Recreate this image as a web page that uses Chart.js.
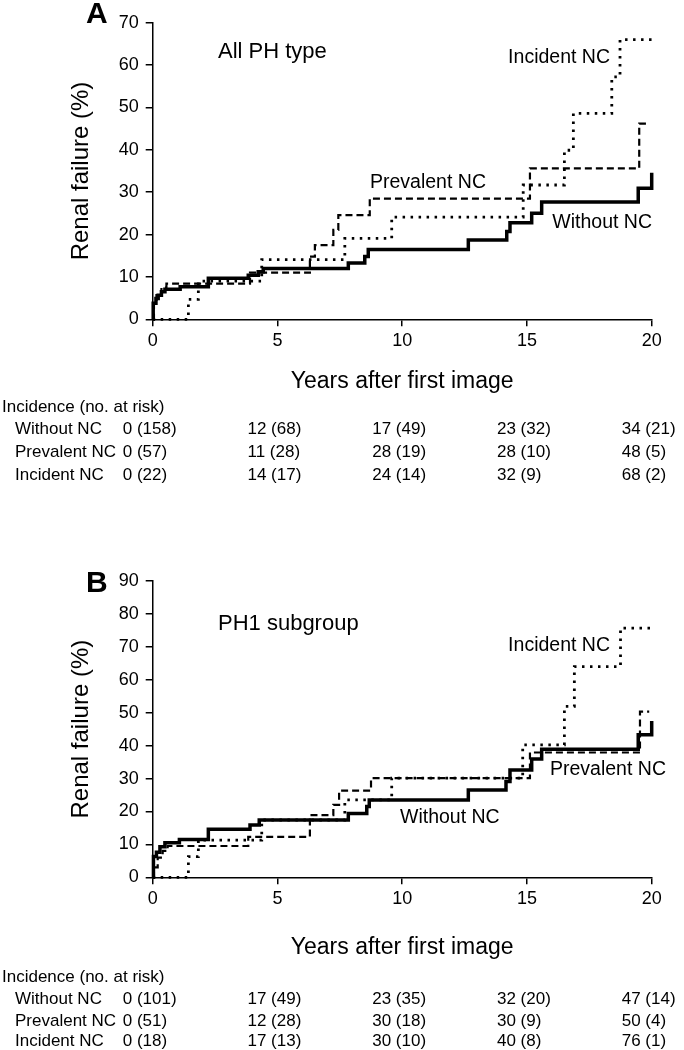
<!DOCTYPE html>
<html>
<head>
<meta charset="utf-8">
<script src="https://cdn.jsdelivr.net/npm/chart.js@4.4.1/dist/chart.umd.min.js"></script>
<style>
  html, body { margin: 0; padding: 0; background: #fff; }
  body { width: 684px; height: 1050px; position: relative; overflow: hidden; }
  canvas { position: absolute; left: 0; }
  #cA { top: 0; }
  #cB { top: 540px; }
</style>
</head>
<body>
<canvas id="cA" width="684" height="490"></canvas>
<canvas id="cB" width="684" height="510"></canvas>
<script>
// ---------- DATA ----------
const seriesNames = ["Without NC", "Prevalent NC", "Incident NC"];
const xTicks = [0, 5, 10, 15, 20];

// Panel A: All PH type (years, cumulative renal failure %)
const aWithoutT = [0, 0.02, 0.13, 0.22, 0.35, 0.49, 1.1, 2.23, 3.83, 4.23, 4.43, 7.84, 8.5, 8.64, 12.65, 14.19, 14.32, 15.19, 15.59, 19.46, 20.0];
const aWithoutV = [0, 3.8, 4.9, 5.7, 6.5, 7.1, 7.7, 9.7, 10.4, 11.2, 12.0, 13.3, 14.8, 16.5, 18.7, 20.7, 22.8, 25.0, 27.7, 30.9, 34.6];
const aPrevT = [0, 0.05, 0.15, 0.35, 0.55, 3.9, 6.3, 6.5, 7.24, 7.44, 8.7, 15.12, 19.5, 19.9];
const aPrevV = [0, 4.0, 6.0, 7.5, 8.4, 11.0, 14.8, 17.5, 21.1, 24.6, 28.5, 35.6, 46.2, 46.2];
const aIncT = [0, 1.43, 1.83, 4.37, 7.7, 9.58, 14.85, 16.5, 16.86, 18.4, 18.73, 20.0];
const aIncV = [0, 4.7, 9.0, 14.1, 19.1, 24.1, 31.7, 39.9, 48.6, 57.2, 66.0, 66.0];
const aTable = {
  "Without NC":   ["0 (158)", "12 (68)", "17 (49)", "23 (32)", "34 (21)"],
  "Prevalent NC": ["0 (57)",  "11 (28)", "28 (19)", "28 (10)", "48 (5)"],
  "Incident NC":  ["0 (22)",  "14 (17)", "24 (14)", "32 (9)",  "68 (2)"]
};

// Panel B: PH1 subgroup
const bWithoutT = [0, 0.03, 0.15, 0.29, 0.49, 1.07, 2.23, 3.9, 4.27, 7.84, 8.58, 8.68, 12.65, 14.16, 14.32, 15.19, 15.59, 19.46, 20.0];
const bWithoutV = [0, 6.3, 7.6, 9.3, 10.5, 11.5, 14.6, 15.9, 17.4, 19.4, 21.5, 23.5, 26.5, 29.1, 32.6, 35.9, 38.9, 43.3, 47.5];
const bPrevT = [0, 0.05, 0.2, 0.4, 0.6, 3.83, 6.3, 7.24, 7.47, 8.75, 15.12, 19.53, 19.9];
const bPrevV = [0, 3.0, 6.0, 8.0, 9.5, 12.3, 18.9, 22.0, 26.3, 30.1, 37.9, 50.3, 50.3];
const bIncT = [0, 1.43, 1.83, 4.37, 7.7, 9.58, 14.83, 16.5, 16.9, 18.75, 20.0];
const bIncV = [0, 6.3, 11.3, 17.4, 23.5, 30.1, 40.2, 51.9, 64.0, 75.7, 75.7];
const bTable = {
  "Without NC":   ["0 (101)", "17 (49)", "23 (35)", "32 (20)", "47 (14)"],
  "Prevalent NC": ["0 (51)",  "12 (28)", "30 (18)", "30 (9)",  "50 (4)"],
  "Incident NC":  ["0 (18)",  "17 (13)", "30 (10)", "40 (8)",  "76 (1)"]
};

// ---------- RENDER ----------
const FONT = 'Arial, "Liberation Sans", Helvetica, sans-serif';
const pts = (t, v) => t.map((x, i) => ({ x: x, y: v[i] }));

const styles = {
  "Without NC":   { borderWidth: 3.5, borderDash: [] },
  "Prevalent NC": { borderWidth: 2.2, borderDash: [7, 4] },
  "Incident NC":  { borderWidth: 2.8, borderDash: [2.5, 5.5] }
};

function makeDatasets(list) {
  return list.map(([name, t, v]) => ({
    label: name,
    data: pts(t, v),
    stepped: 'before',
    borderColor: '#000',
    borderWidth: styles[name].borderWidth,
    borderDash: styles[name].borderDash,
    borderCapStyle: 'butt',
    borderJoinStyle: 'miter',
    pointRadius: 0,
    fill: false,
    clip: 6
  }));
}

const textPlugin = {
  id: 'texts',
  afterDraw(chart, args, o) {
    const ctx = chart.ctx;
    const xs = chart.scales.x;
    const ys = chart.scales.y;
    ctx.save();
    ctx.fillStyle = '#000';
    // panel letter
    ctx.font = 'bold 30px ' + FONT;
    ctx.textAlign = 'left'; ctx.textBaseline = 'alphabetic';
    ctx.fillText(o.letter, 86, o.letterY);
    // y title (centred on the axis)
    ctx.save();
    ctx.translate(81, (ys.top + ys.bottom) / 2);
    ctx.rotate(-Math.PI / 2);
    ctx.font = '24px ' + FONT;
    ctx.textAlign = 'center'; ctx.textBaseline = 'middle';
    ctx.fillText('Renal failure (%)', 0, 0);
    ctx.restore();
    // x title
    ctx.font = '23px ' + FONT;
    ctx.textAlign = 'center'; ctx.textBaseline = 'alphabetic';
    ctx.fillText('Years after first image', xs.getPixelForValue(10), o.xTitleY);
    // subgroup title
    ctx.font = '22px ' + FONT;
    ctx.textAlign = 'left';
    ctx.fillText(o.subtitle, 218, o.subtitleY);
    // curve labels
    ctx.font = '19.5px ' + FONT;
    o.labels.forEach(l => {
      ctx.textAlign = l.align;
      ctx.fillText(l.text, l.x, l.y);
    });
    // risk table
    ctx.font = '17px ' + FONT;
    ctx.textAlign = 'left';
    ctx.fillText('Incidence (no. at risk)', 2, o.tableY[0]);
    seriesNames.forEach((name, r) => {
      const y = o.tableY[r + 1];
      ctx.fillText(name, 15, y);
      o.table[name].forEach((cell, c) => {
        ctx.fillText(cell, xs.getPixelForValue(xTicks[c]) - 30, y);
      });
    });
    ctx.restore();
  }
};

function makeChart(id, canvasH, areaTop, areaBottom, yMax, datasets, textOpts) {
  return new Chart(document.getElementById(id), {
    type: 'line',
    data: { datasets: datasets },
    plugins: [textPlugin],
    options: {
      responsive: false,
      animation: false,
      devicePixelRatio: 1,
      layout: { padding: { top: areaTop, right: 684 - 651.7, left: 0, bottom: 0 } },
      plugins: { legend: { display: false }, tooltip: { enabled: false }, texts: textOpts },
      scales: {
        x: {
          type: 'linear', min: 0, max: 20,
          afterBuildTicks: s => { s.ticks = xTicks.map(v => ({ value: v })); },
          afterFit: s => { s.height = canvasH - areaBottom; },
          ticks: { color: '#000', font: { family: FONT, size: 18 }, padding: 4, maxRotation: 0 },
          grid: { drawOnChartArea: false, drawTicks: true, tickLength: 7, color: '#000', lineWidth: 1.5 },
          border: { display: true, color: '#000', width: 1.5 }
        },
        y: {
          type: 'linear', min: 0, max: yMax,
          ticks: { stepSize: 10, color: '#000', font: { family: FONT, size: 18 }, padding: 7 },
          afterFit: s => { s.width = 152.7; },
          grid: { drawOnChartArea: false, drawTicks: true, tickLength: 7, color: '#000', lineWidth: 1.5 },
          border: { display: true, color: '#000', width: 1.5 }
        }
      }
    }
  });
}

makeChart('cA', 490, 22.7, 319.3, 70, makeDatasets([
  ["Without NC", aWithoutT, aWithoutV],
  ["Prevalent NC", aPrevT, aPrevV],
  ["Incident NC", aIncT, aIncV]
]), {
  letter: 'A', letterY: 23, xTitleY: 388,
  subtitle: 'All PH type', subtitleY: 57.5,
  labels: [
    { text: 'Incident NC', x: 610, y: 63.3, align: 'right' },
    { text: 'Prevalent NC', x: 370, y: 188.3, align: 'left' },
    { text: 'Without NC', x: 652, y: 228.3, align: 'right' }
  ],
  table: aTable, tableY: [411.7, 434.3, 457, 479.7]
});

makeChart('cB', 510, 41, 337.3, 90, makeDatasets([
  ["Without NC", bWithoutT, bWithoutV],
  ["Prevalent NC", bPrevT, bPrevV],
  ["Incident NC", bIncT, bIncV]
]), {
  letter: 'B', letterY: 52, xTitleY: 413.5,
  subtitle: 'PH1 subgroup', subtitleY: 90,
  labels: [
    { text: 'Incident NC', x: 610, y: 110.7, align: 'right' },
    { text: 'Prevalent NC', x: 550, y: 235, align: 'left' },
    { text: 'Without NC', x: 400, y: 283.3, align: 'left' }
  ],
  table: bTable, tableY: [441.7, 463.5, 485.5, 506]
});
</script>
</body>
</html>
